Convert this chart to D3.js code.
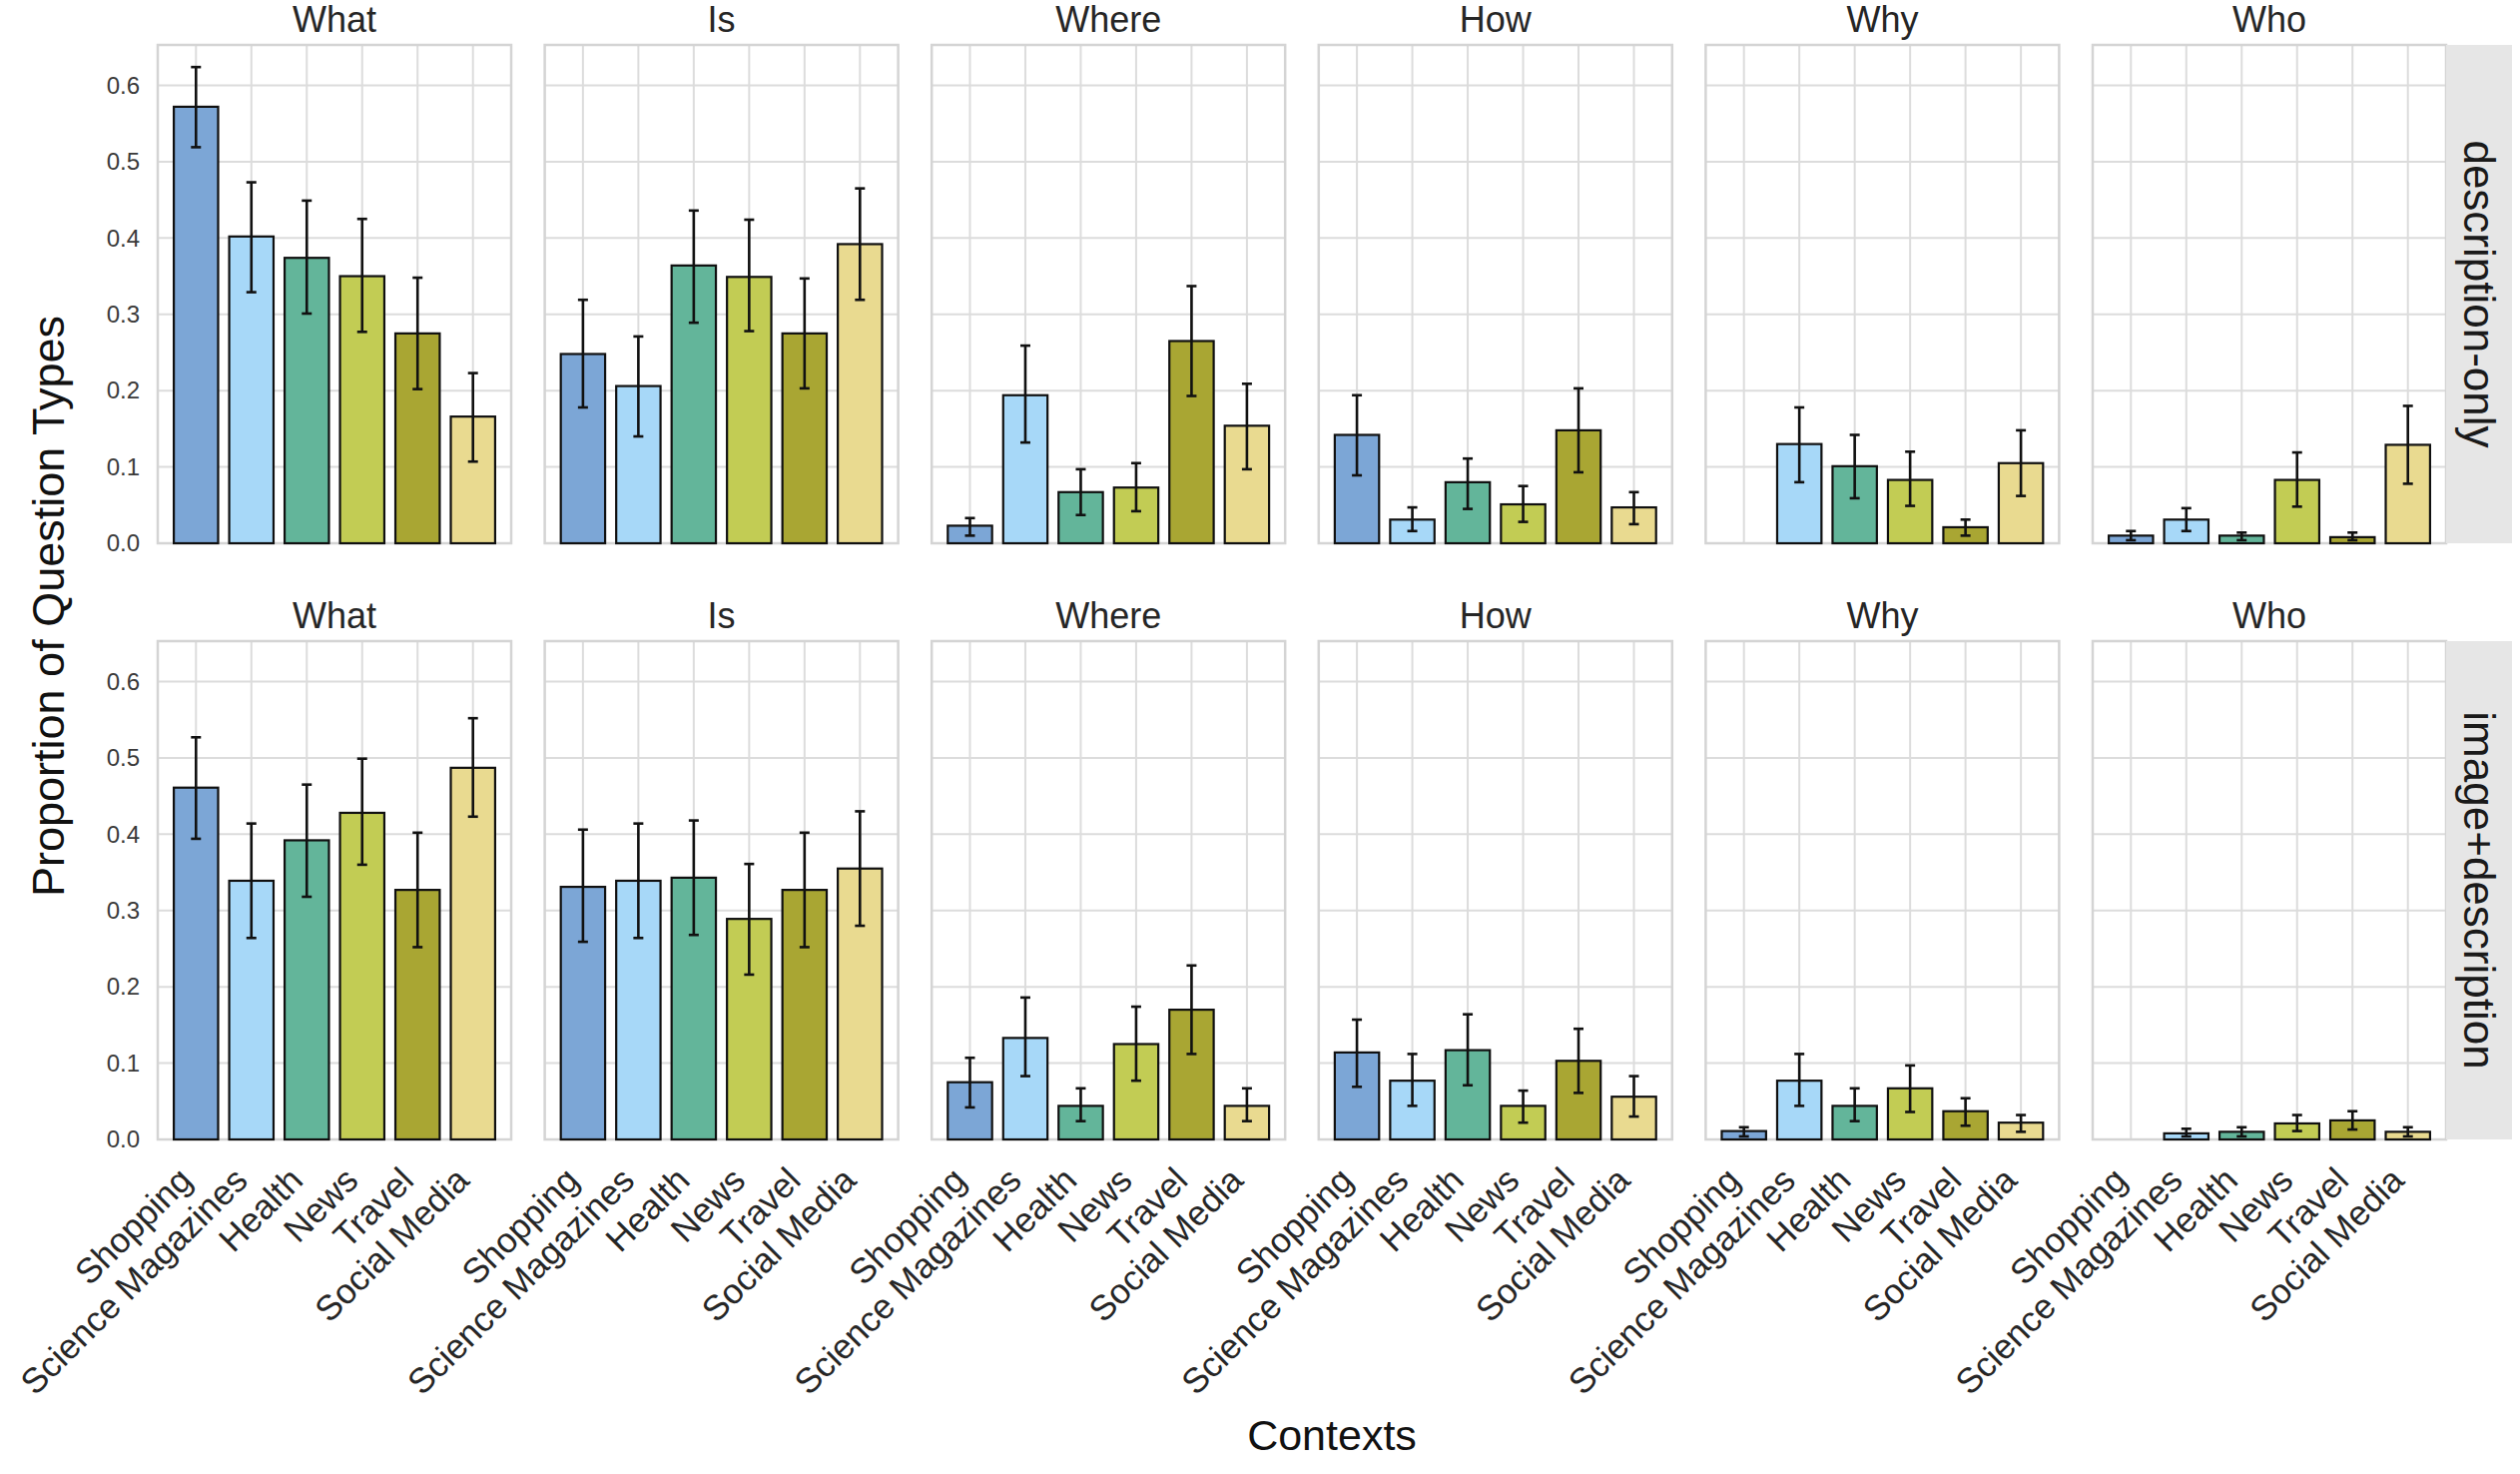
<!DOCTYPE html>
<html>
<head>
<meta charset="utf-8">
<script src="https://cdn.jsdelivr.net/npm/d3@7"></script>
<style>
  html, body { margin: 0; padding: 0; background: #fff; }
  svg { display: block; font-family: "Liberation Sans", Arial, Helvetica, sans-serif; }
</style>
</head>
<body>
<svg id="chart" width="2524" height="1476"></svg>
<script>
// ---------------- DATA ----------------
const contexts = ["Shopping", "Science Magazines", "Health", "News", "Travel", "Social Media"];
const questionTypes = ["What", "Is", "Where", "How", "Why", "Who"];
const conditions = ["description-only", "image+description"];
const yTicks = [0.0, 0.1, 0.2, 0.3, 0.4, 0.5, 0.6];
const contextColors = ["#7ca6d6", "#a7d8f8", "#63b59a", "#c2cc54", "#a9a633", "#e9da90"];

// rows = question types (What, Is, Where, How, Why, Who); columns = contexts
const descOnlyMean = [
  [0.572, 0.402, 0.374, 0.350, 0.275, 0.166],
  [0.248, 0.206, 0.364, 0.349, 0.275, 0.392],
  [0.023, 0.194, 0.067, 0.073, 0.265, 0.154],
  [0.142, 0.031, 0.080, 0.051, 0.148, 0.047],
  [0.000, 0.130, 0.101, 0.083, 0.021, 0.105],
  [0.010, 0.031, 0.010, 0.083, 0.008, 0.129]
];
const descOnlyLow = [
  [0.519, 0.329, 0.301, 0.277, 0.202, 0.107],
  [0.178, 0.140, 0.289, 0.278, 0.203, 0.319],
  [0.010, 0.132, 0.037, 0.042, 0.193, 0.097],
  [0.089, 0.016, 0.045, 0.028, 0.093, 0.025],
  [0.000, 0.080, 0.059, 0.049, 0.010, 0.062],
  [0.004, 0.016, 0.004, 0.048, 0.004, 0.078]
];
const descOnlyHigh = [
  [0.624, 0.473, 0.449, 0.425, 0.348, 0.223],
  [0.319, 0.271, 0.436, 0.424, 0.347, 0.465],
  [0.033, 0.259, 0.097, 0.105, 0.337, 0.209],
  [0.194, 0.047, 0.111, 0.075, 0.203, 0.067],
  [0.000, 0.178, 0.142, 0.120, 0.031, 0.148],
  [0.016, 0.046, 0.014, 0.119, 0.014, 0.180]
];
const imgDescMean = [
  [0.461, 0.339, 0.392, 0.428, 0.327, 0.487],
  [0.331, 0.339, 0.343, 0.289, 0.327, 0.355],
  [0.075, 0.133, 0.044, 0.125, 0.170, 0.044],
  [0.114, 0.077, 0.117, 0.044, 0.103, 0.056],
  [0.011, 0.077, 0.044, 0.067, 0.037, 0.022],
  [0.000, 0.008, 0.010, 0.021, 0.025, 0.010]
];
const imgDescLow = [
  [0.394, 0.264, 0.318, 0.360, 0.252, 0.423],
  [0.259, 0.264, 0.268, 0.216, 0.252, 0.280],
  [0.042, 0.083, 0.024, 0.077, 0.112, 0.024],
  [0.069, 0.044, 0.071, 0.022, 0.061, 0.030],
  [0.004, 0.044, 0.024, 0.036, 0.018, 0.010],
  [0.000, 0.004, 0.004, 0.011, 0.013, 0.004]
];
const imgDescHigh = [
  [0.527, 0.414, 0.465, 0.499, 0.402, 0.552],
  [0.406, 0.414, 0.418, 0.361, 0.402, 0.430],
  [0.107, 0.186, 0.067, 0.174, 0.228, 0.067],
  [0.157, 0.112, 0.164, 0.064, 0.145, 0.083],
  [0.016, 0.112, 0.067, 0.097, 0.054, 0.032],
  [0.000, 0.014, 0.016, 0.032, 0.037, 0.016]
];

const conditionData = [
  { mean: descOnlyMean, low: descOnlyLow, high: descOnlyHigh },
  { mean: imgDescMean, low: imgDescLow, high: imgDescHigh }
];

// ---------------- LAYOUT ----------------
const svg = d3.select("#chart");
const panelLeft0 = 158, panelW = 354, panelStep = 387.6;
const rowTop = [45, 642], panelH = 499;
const stripW = 66;
const yMax = 0.653;

const x = d3.scaleBand().domain(contexts).range([0, panelW]).paddingInner(0.2).paddingOuter(0.29);
const y = d3.scaleLinear().domain([0, yMax]).range([panelH, 0]);

const textColor = "#262626";

conditions.forEach((cond, r) => {
  const cd = conditionData[r];
  questionTypes.forEach((qt, c) => {
    const g = svg.append("g")
      .attr("transform", `translate(${panelLeft0 + c * panelStep},${rowTop[r]})`);

    // grid: horizontal
    g.append("g").selectAll("line").data(yTicks).join("line")
      .attr("x1", 0).attr("x2", panelW)
      .attr("y1", d => y(d)).attr("y2", d => y(d))
      .attr("stroke", "#dcdcdc").attr("stroke-width", 2);
    // grid: vertical at category centers
    g.append("g").selectAll("line").data(contexts).join("line")
      .attr("x1", d => x(d) + x.bandwidth() / 2).attr("x2", d => x(d) + x.bandwidth() / 2)
      .attr("y1", 0).attr("y2", panelH)
      .attr("stroke", "#dcdcdc").attr("stroke-width", 2);

    // panel frame
    g.append("rect").attr("x", 0).attr("y", 0).attr("width", panelW).attr("height", panelH)
      .attr("fill", "none").attr("stroke", "#d4d4d4").attr("stroke-width", 2.5);

    const rows = contexts.map((ctx, i) => ({
      ctx, i, v: cd.mean[c][i], lo: cd.low[c][i], hi: cd.high[c][i]
    }));

    // bars
    g.append("g").selectAll("rect").data(rows).join("rect")
      .attr("x", d => x(d.ctx)).attr("width", x.bandwidth())
      .attr("y", d => y(d.v)).attr("height", d => y(0) - y(d.v))
      .attr("fill", d => contextColors[d.i])
      .attr("stroke", "#101010").attr("stroke-width", 2.2)
      .attr("stroke-opacity", d => d.v === 0 ? 0.35 : 1);

    // error bars
    const eb = g.append("g").selectAll("g").data(rows.filter(d => d.hi > d.lo)).join("g");
    const cx = d => x(d.ctx) + x.bandwidth() / 2;
    eb.append("line").attr("x1", cx).attr("x2", cx)
      .attr("y1", d => y(d.lo)).attr("y2", d => y(d.hi))
      .attr("stroke", "#111").attr("stroke-width", 2.6);
    eb.append("line").attr("x1", d => cx(d) - 5).attr("x2", d => cx(d) + 5)
      .attr("y1", d => y(d.lo)).attr("y2", d => y(d.lo))
      .attr("stroke", "#111").attr("stroke-width", 2.6);
    eb.append("line").attr("x1", d => cx(d) - 5).attr("x2", d => cx(d) + 5)
      .attr("y1", d => y(d.hi)).attr("y2", d => y(d.hi))
      .attr("stroke", "#111").attr("stroke-width", 2.6);

    // title
    g.append("text").attr("x", panelW / 2).attr("y", -13)
      .attr("text-anchor", "middle").attr("font-size", 36).attr("fill", textColor)
      .text(qt);

    // y axis on first column
    if (c === 0) {
      const ya = d3.axisLeft(y).tickValues(yTicks).tickFormat(d3.format(".1f")).tickSize(0).tickPadding(18);
      const ag = g.append("g").call(ya);
      ag.select(".domain").remove();
      ag.selectAll("text").attr("font-size", 24).attr("fill", "#3a3a3a")
        .attr("font-family", "'Liberation Sans', Arial, sans-serif");
    }

    // x tick labels on bottom row
    if (r === conditions.length - 1) {
      const xa = d3.axisBottom(x).tickSize(0).tickPadding(0);
      const ag = g.append("g").attr("transform", `translate(0,${panelH})`).call(xa);
      ag.select(".domain").remove();
      ag.selectAll(".tick text")
        .attr("font-size", 35).attr("fill", textColor)
        .attr("font-family", "'Liberation Sans', Arial, sans-serif")
        .attr("text-anchor", "end")
        .attr("dy", null).attr("y", 0)
        .attr("transform", "translate(-2,43) rotate(-45)");
    }

    // row strip on last column
    if (c === questionTypes.length - 1) {
      g.append("rect").attr("x", panelW).attr("y", 0).attr("width", stripW).attr("height", panelH)
        .attr("fill", "#e6e6e6");
      g.append("text")
        .attr("transform", `translate(${panelW + stripW / 2},${panelH / 2}) rotate(90)`)
        .attr("text-anchor", "middle").attr("dy", "0.35em")
        .attr("font-size", 44).attr("fill", "#1a1a1a")
        .text(cond);
    }
  });
});

// axis labels
svg.append("text")
  .attr("transform", `translate(48,607) rotate(-90)`)
  .attr("text-anchor", "middle").attr("dy", "0.35em")
  .attr("font-size", 45).attr("fill", "#111")
  .text("Proportion of Question Types");

svg.append("text")
  .attr("x", 1334).attr("y", 1452)
  .attr("text-anchor", "middle")
  .attr("font-size", 43).attr("fill", "#111")
  .text("Contexts");
</script>
</body>
</html>
